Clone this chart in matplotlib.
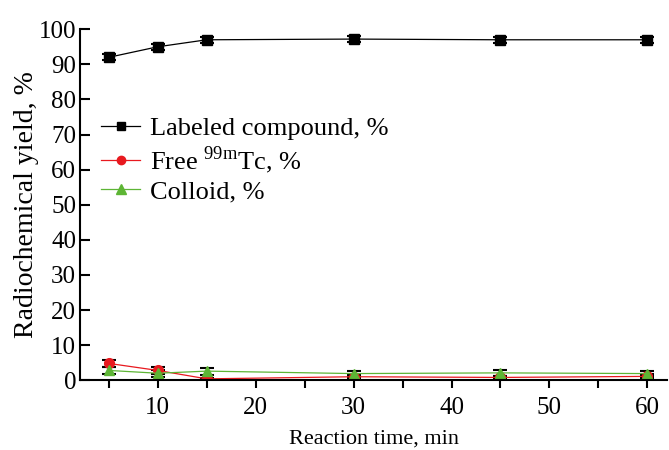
import matplotlib
matplotlib.use("Agg")
import matplotlib.pyplot as plt
from matplotlib.lines import Line2D
from matplotlib.ticker import MultipleLocator

plt.rcParams["font.family"] = ["Liberation Serif", "DejaVu Serif"]
plt.rcParams["mathtext.fontset"] = "custom"
plt.rcParams["mathtext.rm"] = "Liberation Serif"

# reaction time, min
time = [5, 10, 15, 30, 45, 60]

labeled = [92.0, 95.0, 97.0, 97.2, 97.0, 97.0]
labeled_err = [0.9, 0.9, 0.9, 0.8, 0.8, 0.8]

free_tc = [4.8, 2.8, 0.4, 1.0, 0.8, 1.1]
free_err = [1.1, 1.0, 0.3, 0.5, 0.5, 0.6]

colloid = [2.8, 2.0, 2.6, 1.9, 2.1, 1.9]
colloid_err = [1.1, 1.0, 1.0, 0.8, 0.9, 0.8]

series = [
    (labeled, labeled_err, "black", "s", 6.5, "Labeled compound, %"),
    (free_tc, free_err, "#e8191f", "o", 7, r"Free $^{\mathrm{99m}}$Tc, %"),
    (colloid, colloid_err, "#5db535", "^", 7.5, "Colloid, %"),
]

fig = plt.figure(figsize=(6.69, 4.5), dpi=100)
ax = fig.add_axes([0.12, 0.155, 0.877, 0.78])

handles = []
for vals, errs, col, mk, ms, lab in series:
    ax.errorbar(time, vals, yerr=errs, color=col, marker=mk, ms=ms, lw=0.9,
                ecolor="black", elinewidth=1, capsize=5, capthick=1.5)
    handles.append(Line2D([], [], color=col, marker=mk, ms=ms - 1, lw=0.9, label=lab))

ax.set_xlim(2.1, 62)
ax.set_ylim(0, 100)
ax.xaxis.set_major_locator(MultipleLocator(10))
ax.xaxis.set_minor_locator(MultipleLocator(5))
ax.yaxis.set_major_locator(MultipleLocator(10))

ax.spines["top"].set_visible(False)
ax.spines["right"].set_visible(False)
ax.spines["left"].set_linewidth(1.5)
ax.spines["bottom"].set_linewidth(1.5)

ax.tick_params(axis="x", which="both", direction="out", length=6, width=1.5,
               labelsize=18, pad=6)
ax.tick_params(axis="y", which="major", direction="in", length=7, width=1.5,
               labelsize=18, pad=3)

ax.set_xlabel("Reaction time, min", fontsize=16, labelpad=8)
ax.set_ylabel("Radiochemical yield, %", fontsize=20, labelpad=0)

ax.legend(handles=handles, loc="upper left", bbox_to_anchor=(0.035, 0.75),
          frameon=False, fontsize=19, handlelength=1.5, handletextpad=0.35,
          labelspacing=0.15, borderpad=0.0, borderaxespad=0.0)

fig.savefig("out.png", dpi=100)
